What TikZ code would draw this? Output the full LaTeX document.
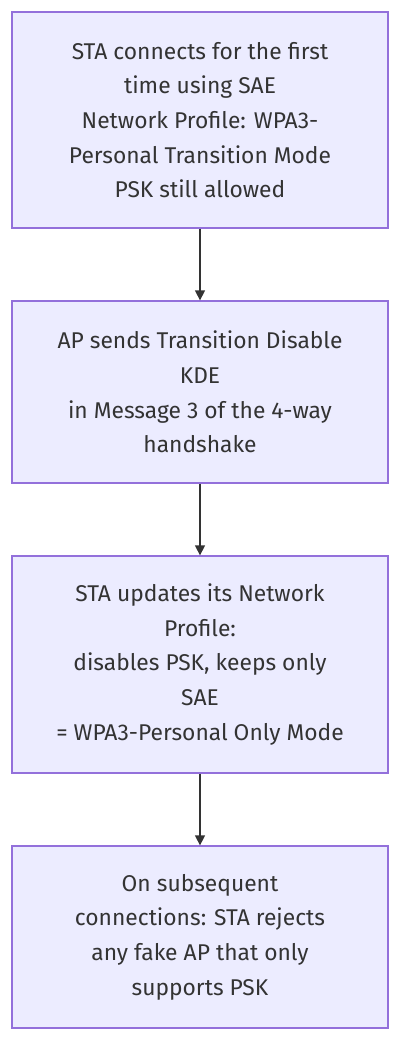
\documentclass[tikz,border=0pt]{standalone}
\usepackage{fontspec}
\setmainfont{Fira Sans}
\usetikzlibrary{arrows.meta}
\definecolor{boxfill}{HTML}{ECECFF}
\definecolor{boxline}{HTML}{9370DB}
\definecolor{txt}{HTML}{333333}
\begin{document}
\begin{tikzpicture}[x=1pt,y=-1pt,
  stepbox/.style={draw=boxline,fill=boxfill,line width=1.3pt,minimum width=376pt,
    inner sep=0pt,align=center,text=txt,
    font=\fontsize{22.8}{34.6}\selectfont},
  link/.style={draw=txt,line width=1.4pt,-{Triangle[length=10pt,width=10pt]}}]
\useasboundingbox (0,0) rectangle (400,1040);
\node[stepbox,minimum height=216pt] (a) at (200,120) {STA connects for the first\\time using SAE\\Network Profile: WPA3-\\Personal Transition Mode\\PSK still allowed};
\node[stepbox,minimum height=182pt] (b) at (200,392) {AP sends Transition Disable\\KDE\\in Message 3 of the 4-way\\handshake};
\node[stepbox,minimum height=217pt] (c) at (200,664.5) {STA updates its Network\\Profile:\\disables PSK, keeps only\\SAE\\= WPA3-Personal Only Mode};
\node[stepbox,minimum height=182pt] (d) at (200,937) {On subsequent\\connections: STA rejects\\any fake AP that only\\supports PSK};
\draw[link] (a) -- (b);
\draw[link] (b) -- (c);
\draw[link] (c) -- (d);
\end{tikzpicture}
\end{document}
